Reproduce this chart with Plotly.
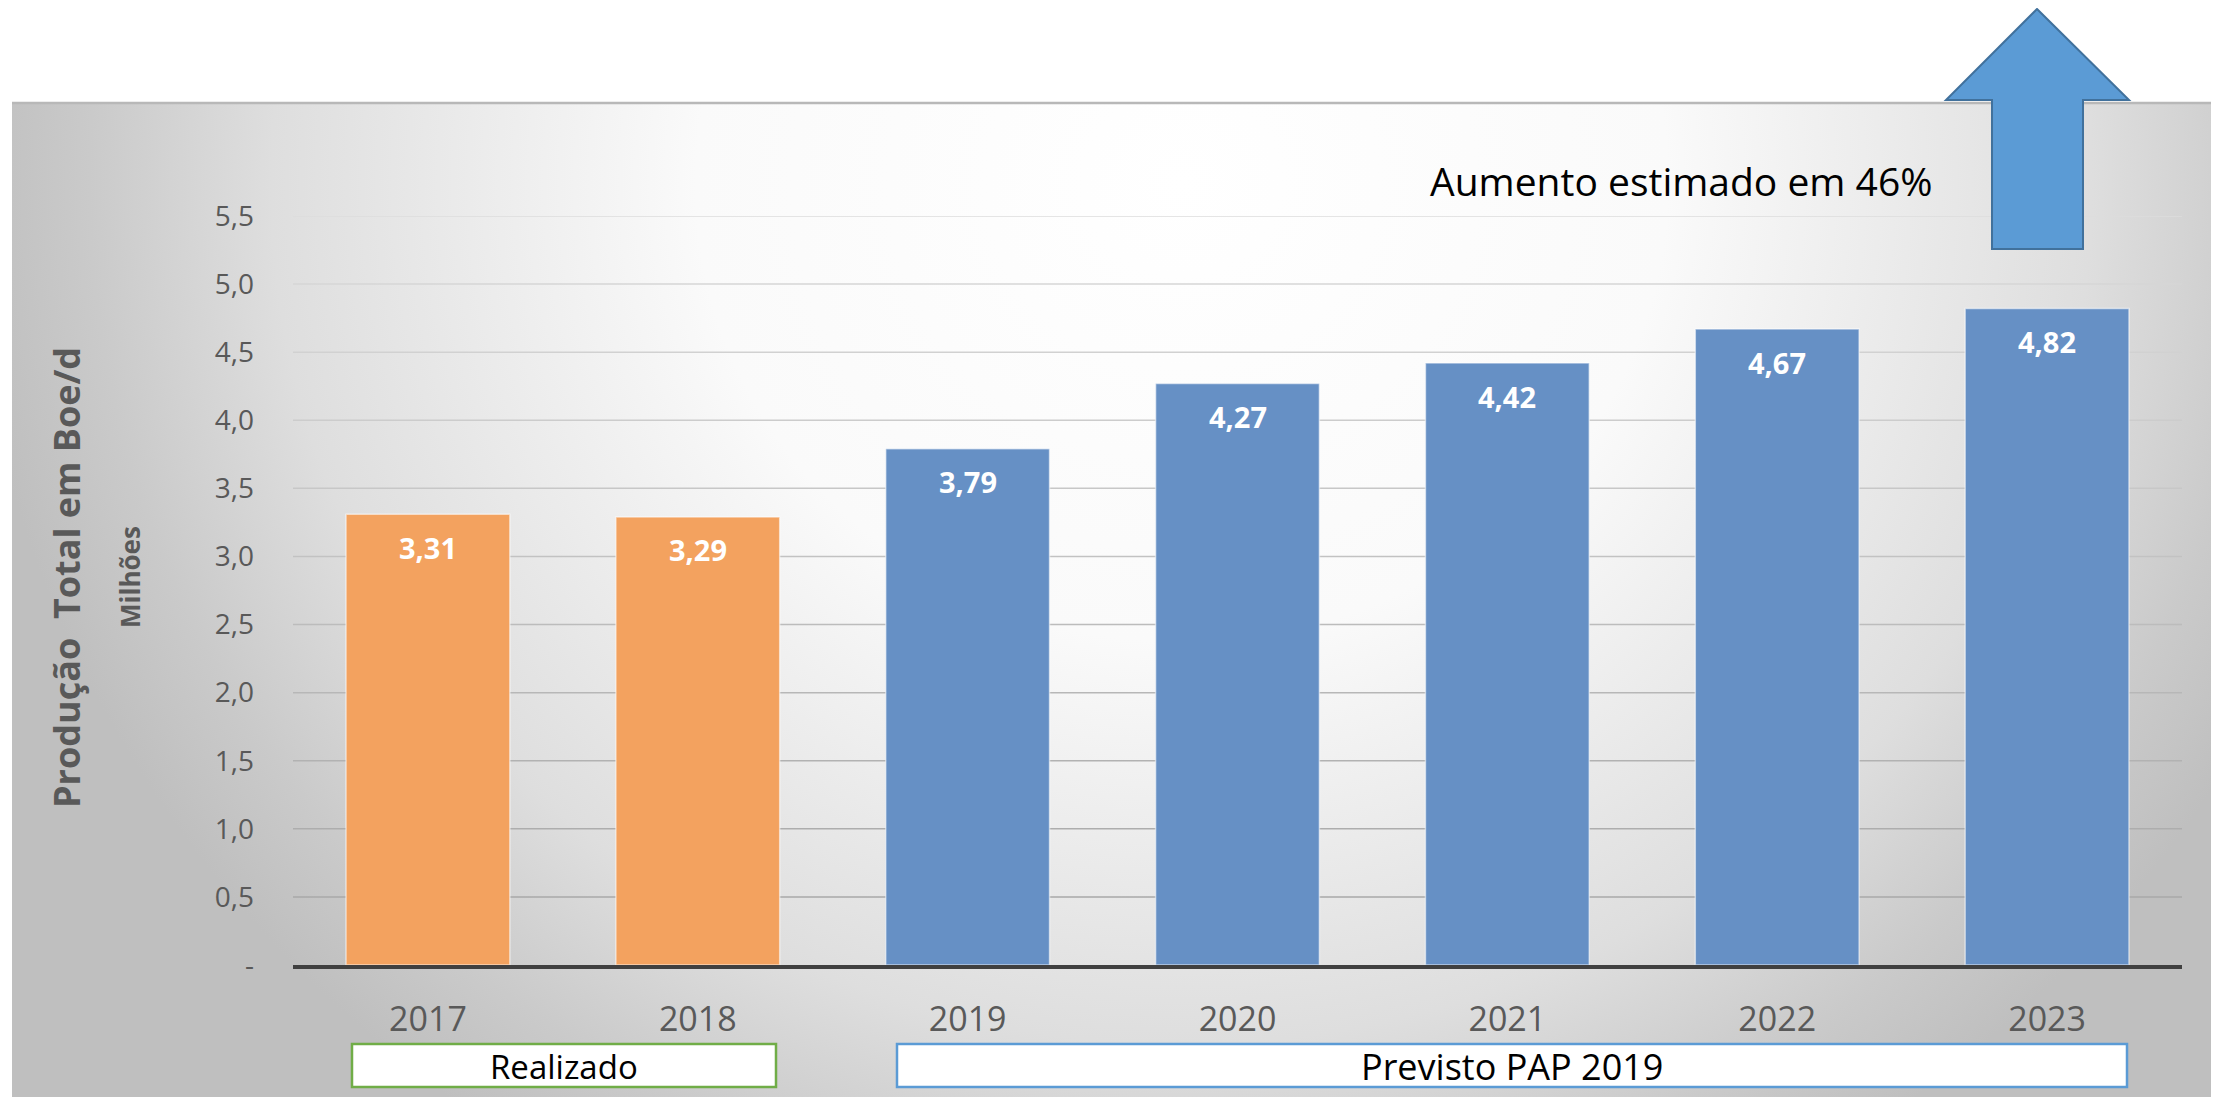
import base64
import plotly.graph_objects as go

# dados
anos = ["2017", "2018", "2019", "2020", "2021", "2022", "2023"]
producao = [3.31, 3.29, 3.79, 4.27, 4.42, 4.67, 4.82]
tipo = ["Realizado", "Realizado", "Previsto", "Previsto", "Previsto", "Previsto", "Previsto"]
tick_vals = [0, 0.5, 1.0, 1.5, 2.0, 2.5, 3.0, 3.5, 4.0, 4.5, 5.0, 5.5]
tick_text = ["-", "0,5", "1,0", "1,5", "2,0", "2,5", "3,0", "3,5", "4,0", "4,5", "5,0", "5,5"]

cores = {"Realizado": "#F3A25F", "Previsto": "#6690C5"}
FONTE = "Open Sans"

# a página tem margem de 8px; coordenadas abaixo em pixels da referência
OFF = 8
W, H = 2219 - OFF, 1097 - OFF
L, R, T, B = 285, 37, 208, 132
PW, PH = W - L - R, H - T - B


def px(x):
    return (x - OFF - L) / PW


def py(y):
    return (H - B - (y - OFF)) / PH


# fundo cinza com gradiente (svg)
svg = """<svg xmlns='http://www.w3.org/2000/svg' width='2207' height='994' viewBox='0 0 1 1' preserveAspectRatio='none'>
<defs><radialGradient id='g' cx='0.53' cy='0.08' r='0.55' fx='0.53' fy='0.08'
 gradientTransform='translate(0.53,0.08) scale(1,2.1) translate(-0.53,-0.08)'>
<stop offset='0' stop-color='#ffffff'/>
<stop offset='0.4' stop-color='#fafafa'/>
<stop offset='0.75' stop-color='#dedede'/>
<stop offset='0.9' stop-color='#cacaca'/>
<stop offset='1' stop-color='#bfbfbf'/>
</radialGradient></defs>
<rect x='0' y='0' width='1' height='1' fill='url(#g)'/></svg>"""
src = "data:image/svg+xml;base64," + base64.b64encode(svg.encode()).decode()

fig = go.Figure()

fig.add_trace(go.Bar(
    x=anos,
    y=producao,
    marker=dict(color=[cores[t] for t in tipo], line=dict(color="rgba(255,255,255,0.55)", width=1.5)),
    width=0.607,
    showlegend=False,
    hoverinfo="skip",
))

# rótulos de valor dentro das barras (x pelo índice da categoria)
for i, v in enumerate(producao):
    fig.add_annotation(x=i, y=v, text=f"{v:.2f}".replace(".", ","), showarrow=False,
                       xanchor="center", yanchor="middle", yshift=-33,
                       font=dict(family=FONTE, size=29, color="white", weight="bold"))

shapes = []
# linhas de grade (mais escuras embaixo)
for v in tick_vals[1:]:
    g = int(0xA8 + (0xDC - 0xA8) * (v - 0.5) / 5.0)
    shapes.append(dict(type="line", xref="paper", yref="y", x0=0, x1=1, y0=v, y1=v,
                       line=dict(color=f"rgb({g},{g},{g})", width=1.5), layer="below"))

# borda superior do fundo
shapes.append(dict(type="line", xref="paper", yref="paper", x0=px(12), x1=px(2219), y0=py(103), y1=py(103),
                   line=dict(color="#b8b8b8", width=2.5)))

# caixas abaixo dos anos
shapes.append(dict(type="rect", xref="paper", yref="paper", x0=px(352), x1=px(776), y0=py(1087), y1=py(1044),
                   fillcolor="white", line=dict(color="#70AD47", width=2.5)))
shapes.append(dict(type="rect", xref="paper", yref="paper", x0=px(897), x1=px(2127), y0=py(1087), y1=py(1044),
                   fillcolor="white", line=dict(color="#5B9BD5", width=2.5)))

# seta para cima
pts = [(2037, 9), (2129, 100), (2083, 100), (2083, 249), (1992, 249), (1992, 100), (1946, 100)]
path = "M " + " L ".join(f"{px(a):.5f},{py(b):.5f}" for a, b in pts) + " Z"
shapes.append(dict(type="path", xref="paper", yref="paper", path=path,
                   fillcolor="#5B9BD5", line=dict(color="#41719C", width=2)))


def nota(x, y, texto, tam, cor="black", negrito=False, angulo=0, xanchor="center"):
    fig.add_annotation(xref="paper", yref="paper", x=px(x), y=py(y), text=texto, showarrow=False,
                       xanchor=xanchor, yanchor="middle", textangle=angulo,
                       font=dict(family=FONTE, size=tam, color=cor, weight="bold" if negrito else "normal"))


nota(564, 1066, "Realizado", 33)
nota(1512, 1066, "Previsto PAP 2019", 36)
nota(1428, 180, "Aumento estimado em 46%", 39, xanchor="left")
nota(66, 578, "Produção\u00a0 Total em Boe/d", 36, "#595959", True, -90)
nota(130, 577, "Milhões", 26, "#595959", True, -90)

fig.add_layout_image(dict(source=src, xref="paper", yref="paper", x=px(12), y=py(103),
                          sizex=(2219 - 12) / PW, sizey=(1097 - 103) / PH, sizing="stretch",
                          xanchor="left", yanchor="top", layer="below"))

fig.update_layout(
    width=W, height=H, autosize=False,
    margin=dict(l=L, r=R, t=T, b=B),
    paper_bgcolor="white",
    plot_bgcolor="rgba(0,0,0,0)",
    shapes=shapes,
    font=dict(family=FONTE),
)
fig.update_xaxes(type="category", range=[-0.5, len(anos) - 0.5], showgrid=False, zeroline=False,
                 showline=True, linecolor="#404040", linewidth=3.5, ticks="", ticklabelstandoff=21,
                 tickfont=dict(family=FONTE, size=34, color="#595959"))
fig.update_yaxes(range=[0, 5.5], tickvals=tick_vals, ticktext=tick_text, showgrid=False,
                 zeroline=False, ticks="", ticklabelstandoff=38,
                 tickfont=dict(family=FONTE, size=28, color="#595959"))

fig.write_html("out.html")
